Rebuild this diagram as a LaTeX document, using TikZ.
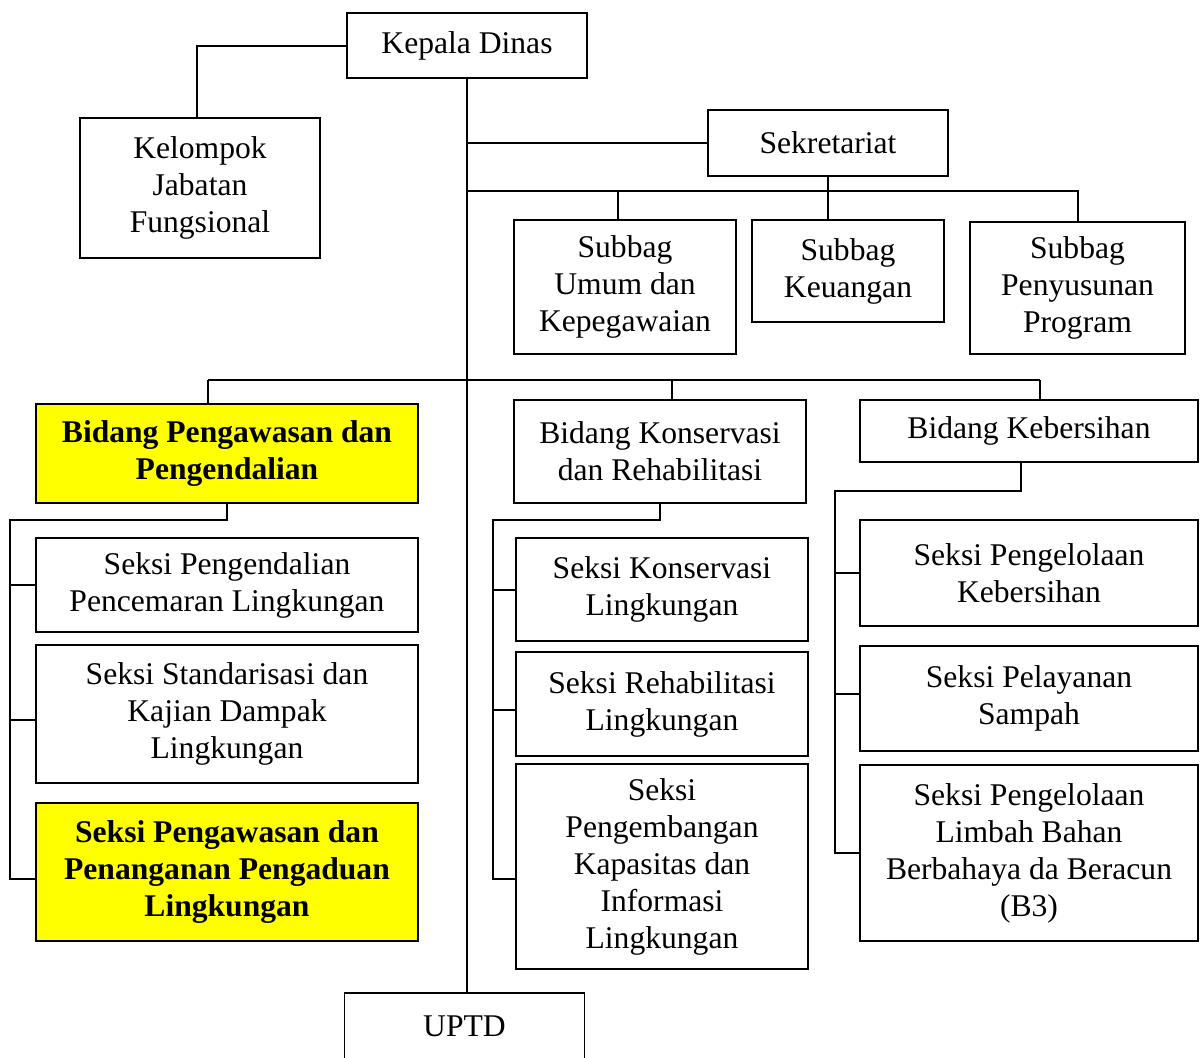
\documentclass[tikz,border=0pt]{standalone}
\usepackage{fontspec}
\setmainfont{Liberation Serif}
\definecolor{hilite}{RGB}{255,255,0}

\begin{document}
\begin{tikzpicture}[x=0.5pt, y=-0.5pt, font=\fontsize{15.8}{18.5}\selectfont, unit/.style={draw, line width=0.7pt, align=center, inner sep=0pt}, keyunit/.style={unit, fill=hilite, font=\fontsize{15.8}{18.5}\selectfont\bfseries}, link/.style={line width=1pt}]
\useasboundingbox (0,0) rectangle (1203,1057);
% pimpinan dan sekretariat
\node[unit, minimum width=120pt, minimum height=32.5pt] (kepala) at (467,45.5) {Kepala Dinas};
\node[unit, minimum width=120pt, minimum height=70pt] (kelompok) at (200,188) {Kelompok\\Jabatan\\Fungsional};
\node[unit, minimum width=120pt, minimum height=33pt] (sekretariat) at (828,143) {Sekretariat};
\node[unit, minimum width=111pt, minimum height=67pt] (subumum) at (625,287) {Subbag\\Umum dan\\Kepegawaian};
\node[unit, minimum width=96pt, minimum height=51pt] (subkeuangan) at (848,271) {Subbag\\Keuangan};
\node[unit, minimum width=107.5pt, minimum height=66pt] (subpenyusunan) at (1077.5,288) {Subbag\\Penyusunan\\Program};
% bidang
\node[keyunit, minimum width=191pt, minimum height=49.5pt] (bpengawasan) at (227,453.5) {Bidang Pengawasan dan\\Pengendalian};
\node[unit, minimum width=146pt, minimum height=51.5pt] (bkonservasi) at (660,451.5) {Bidang Konservasi\\dan Rehabilitasi};
\node[unit, minimum width=169pt, minimum height=31pt] (bkebersihan) at (1029,431) {Bidang Kebersihan};
% seksi
\node[unit, minimum width=191pt, minimum height=47pt] (spengendalian) at (227,585) {Seksi Pengendalian\\Pencemaran Lingkungan};
\node[unit, minimum width=191pt, minimum height=69pt] (sstandar) at (227,714) {Seksi Standarisasi dan\\Kajian Dampak\\Lingkungan};
\node[keyunit, minimum width=191pt, minimum height=69pt] (spengawasan) at (227,872) {Seksi Pengawasan dan\\Penanganan Pengaduan\\Lingkungan};
\node[unit, minimum width=146pt, minimum height=51.5pt] (skonservasi) at (662,589.5) {Seksi Konservasi\\Lingkungan};
\node[unit, minimum width=146pt, minimum height=52pt] (srehab) at (662,704) {Seksi Rehabilitasi\\Lingkungan};
\node[unit, minimum width=146pt, minimum height=102.5pt] (spengembangan) at (662,866.5) {Seksi\\Pengembangan\\Kapasitas dan\\Informasi\\Lingkungan};
\node[unit, minimum width=169pt, minimum height=53pt] (spkebersihan) at (1029,573) {Seksi Pengelolaan\\Kebersihan};
\node[unit, minimum width=169pt, minimum height=52.5pt] (spelayanan) at (1029,698.5) {Seksi Pelayanan\\Sampah};
\node[unit, minimum width=169pt, minimum height=88pt] (slimbah) at (1029,853) {Seksi Pengelolaan\\Limbah Bahan\\Berbahaya da Beracun\\(B3)};
\node[unit, minimum width=120pt, minimum height=33.5pt] (uptd) at (464.5,1026.5) {UPTD};
% garis komando
\draw[link] (kepala.west) -| ([xshift=-1.5pt]kelompok.north);
\draw[link] (kepala.south) -- (kepala.south |- uptd.north);
\draw[link] (kepala.south |- sekretariat.west) -- (sekretariat.west);
\coordinate (subbus) at (0,191);
\draw[link] (kepala.south |- subbus) -- (subpenyusunan.north |- subbus) -- (subpenyusunan.north);
\draw[link] ([xshift=-3.5pt]subumum.north |- subbus) -- ([xshift=-3.5pt]subumum.north);
\draw[link] (sekretariat.south) -- (sekretariat.south |- subkeuangan.north);
\coordinate (busleft) at (208,380);
\coordinate (busmid) at (672,380);
\coordinate (busright) at (1040,380);
\draw[link] (busleft) -- (busright);
\draw[link] (busleft) -- (busleft |- bpengawasan.north);
\draw[link] (busmid) -- (busmid |- bkonservasi.north);
\draw[link] (busright) -- (busright |- bkebersihan.north);
% rel seksi
\coordinate (railA) at (10,520);
\draw[link] (bpengawasan.south) |- (railA) |- ([yshift=-3.5pt]spengawasan.west);
\draw[link] (railA |- spengendalian.west) -- (spengendalian.west);
\draw[link] ([yshift=-3pt]railA |- sstandar.west) -- ([yshift=-3pt]sstandar.west);
\coordinate (railB) at (493,520);
\draw[link] (bkonservasi.south) |- (railB) |- ([yshift=-6pt]spengembangan.west);
\draw[link] (railB |- skonservasi.west) -- (skonservasi.west);
\draw[link] ([yshift=-3pt]railB |- srehab.west) -- ([yshift=-3pt]srehab.west);
\coordinate (railC) at (835,491);
\draw[link] ([xshift=-4pt]bkebersihan.south) |- (railC) |- (slimbah.west);
\draw[link] (railC |- spkebersihan.west) -- (spkebersihan.west);
\draw[link] ([yshift=2.5pt]railC |- spelayanan.west) -- ([yshift=2.5pt]spelayanan.west);
\end{tikzpicture}
\end{document}
